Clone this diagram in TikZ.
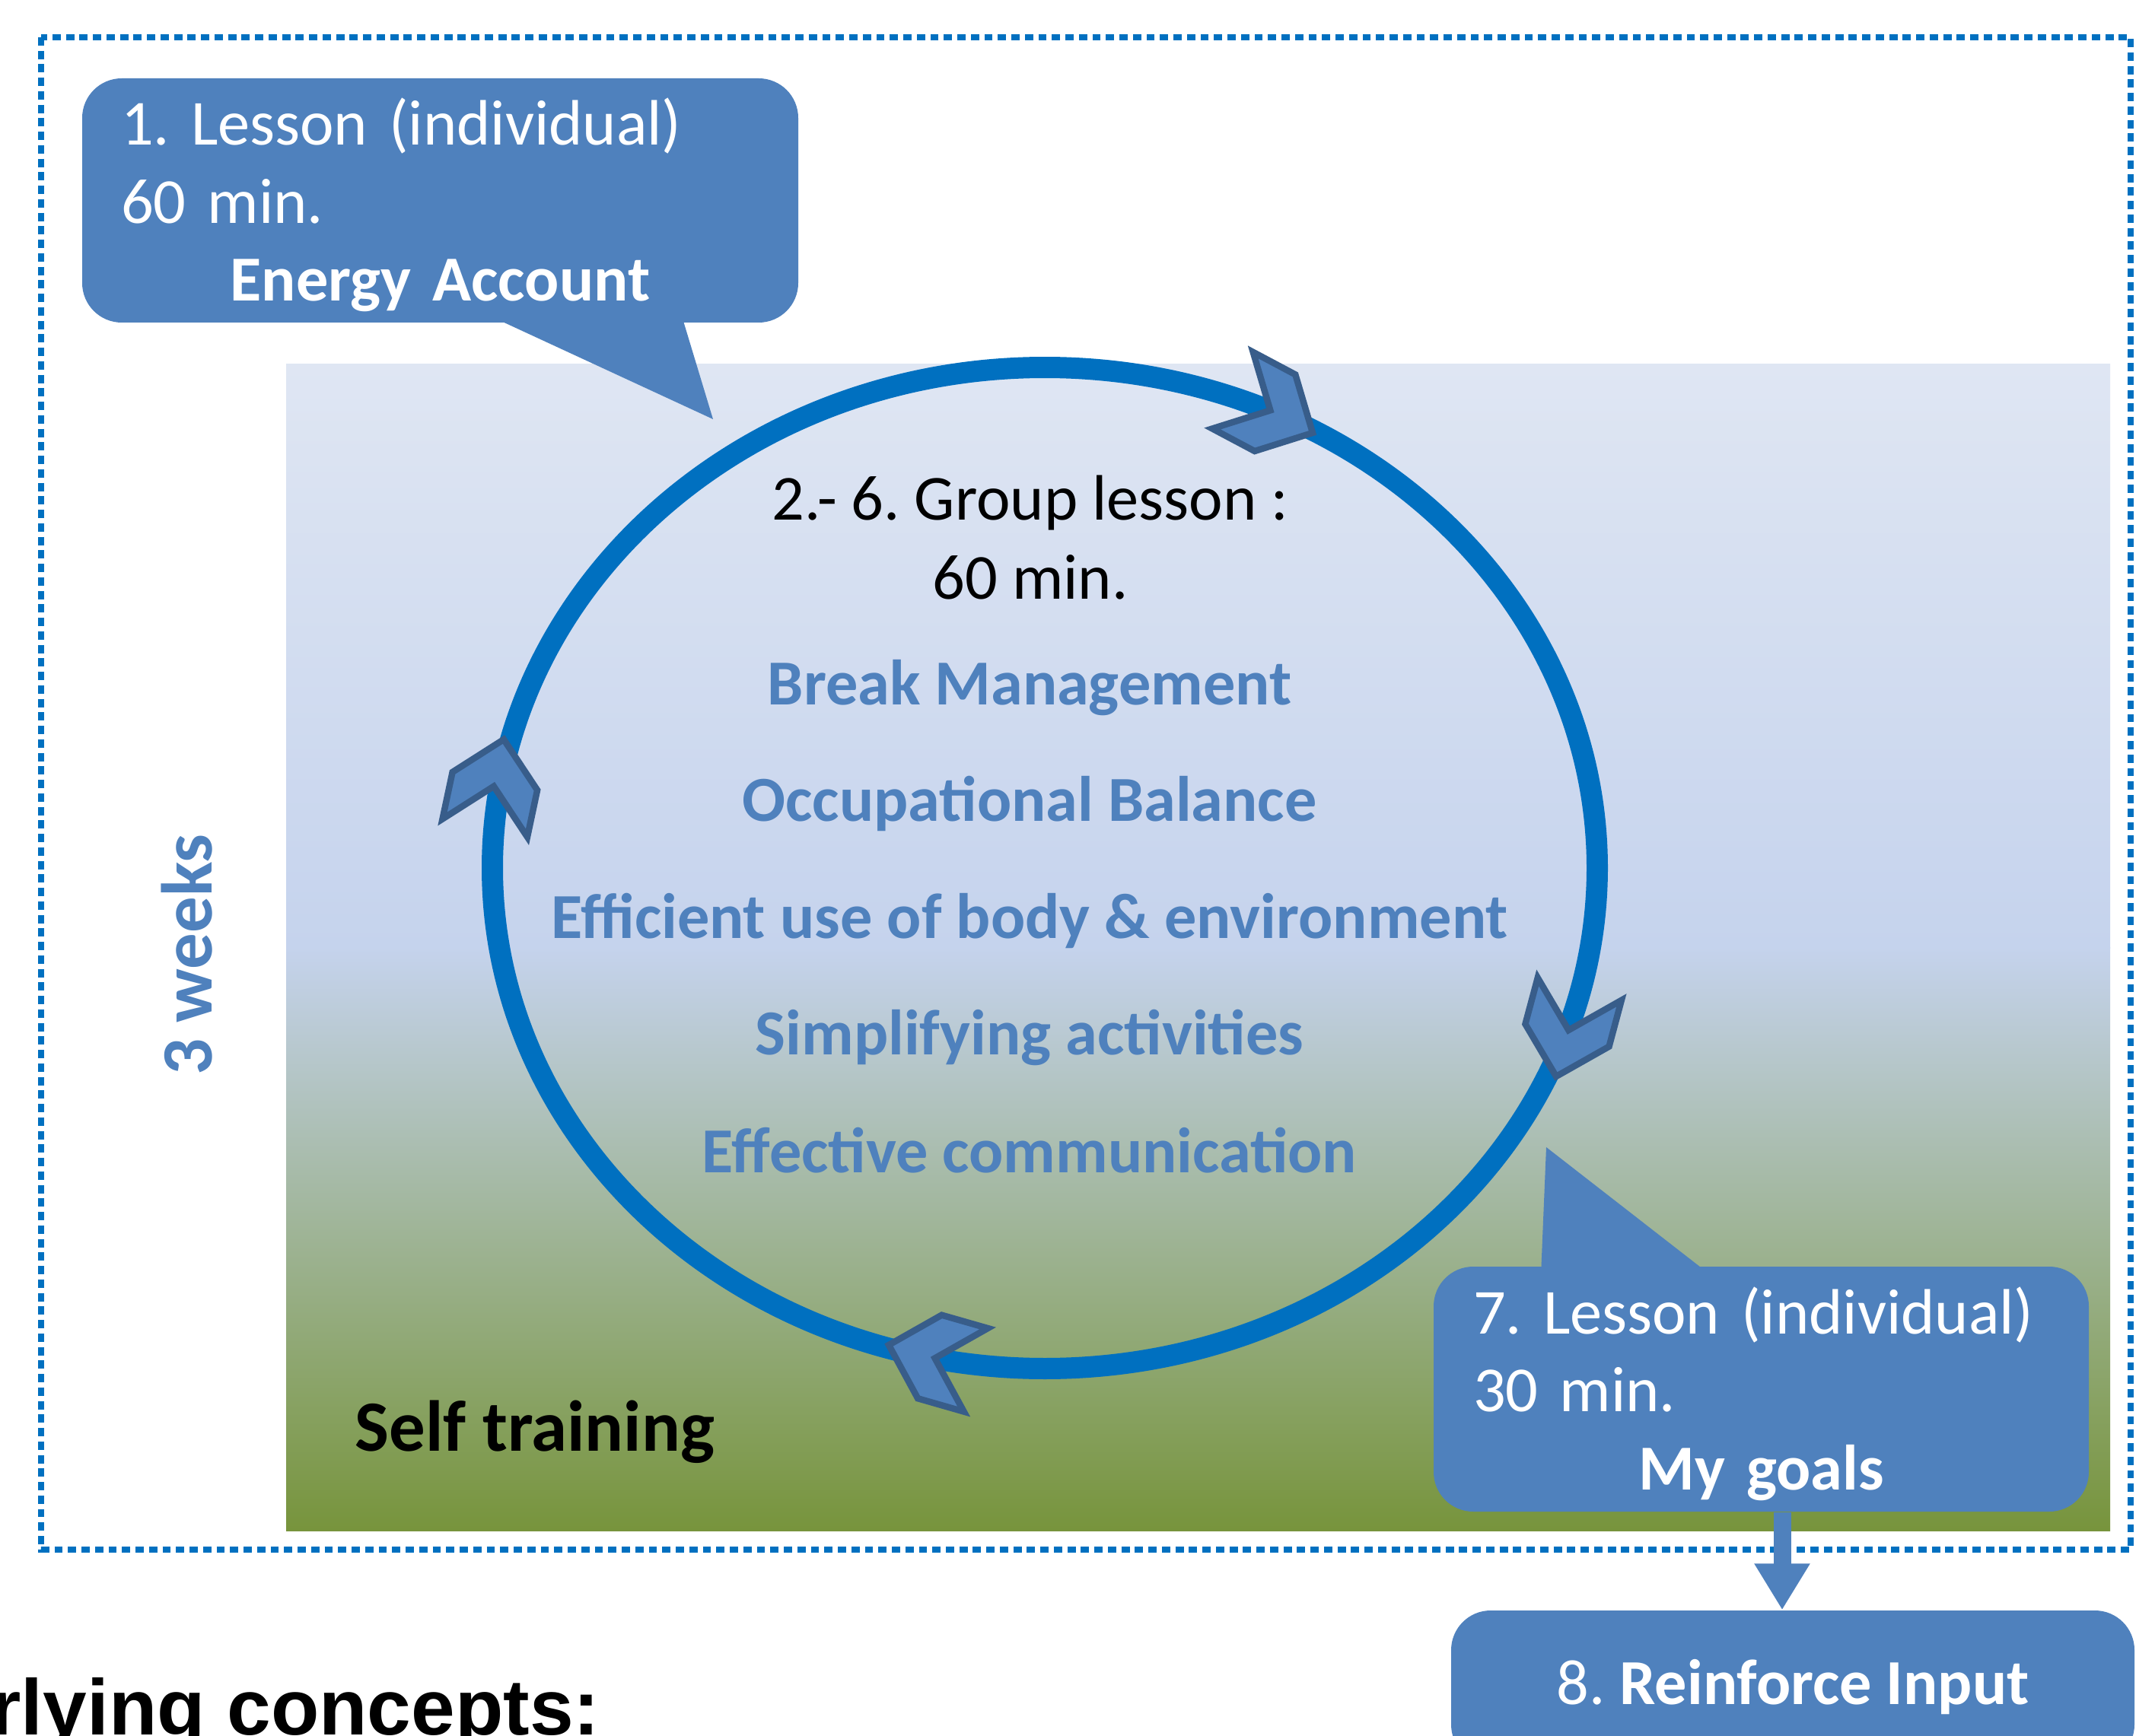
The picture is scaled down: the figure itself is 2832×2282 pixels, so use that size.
\documentclass[tikz,border=0pt]{standalone}
\usepackage{fontspec}
\setmainfont{Carlito}
\newfontfamily\arialfont{Liberation Sans}
\usetikzlibrary{arrows.meta,calc}
\frenchspacing

\definecolor{frameblue}{RGB}{0,112,192}
\definecolor{boxblue}{RGB}{79,129,189}
\definecolor{chevedge}{RGB}{56,93,138}
\definecolor{bgtop}{RGB}{223,230,243}
\definecolor{bgmid}{RGB}{197,211,237}
\definecolor{bggreen}{RGB}{119,148,60}

\tikzset{
  callout/.style={fill=boxblue, rounded corners=0.52cm, text=white, inner sep=0pt,
    font=\fontsize{24}{29.2}\selectfont, align=left},
  topic/.style={text=boxblue, anchor=base, inner sep=0pt,
    font=\fontsize{24}{29.2}\selectfont\bfseries},
  plain/.style={anchor=base, inner sep=0pt, font=\fontsize{24}{29.2}\selectfont},
  chev/.pic={\filldraw[fill=boxblue, draw=chevedge, line width=2.4pt]
    (0,0) -- (-56,57) -- (-119,57) -- (-63,0) -- (-119,-57) -- (-56,-57) -- cycle;}
}

\begin{document}
\begin{tikzpicture}[x=0.1mm, y=-0.1mm]

  \useasboundingbox (0,0) rectangle (2832,2282);
  \clip (0,0) rectangle (2832,2282);
  \fill[white] (0,0) rectangle (2832,2282);

  % Outer frame
  \draw[frameblue, line width=2.4pt, dash pattern=on 3.1pt off 1.95pt]
    (54,49) rectangle (2800,2037);

  % Background (blue to green)
  \shade[top color=bgtop, bottom color=bgmid] (376,479) rectangle (2773,1246);
  \shade[top color=bgmid, bottom color=bggreen] (376,1245) rectangle (2773,2012);

  % Cycle
  \draw[frameblue, line width=0.28cm] (1373,1141) ellipse [x radius=7.26cm, y radius=6.58cm];
  \pic[rotate=-28] at (1725,569) {chev};
  \pic[rotate=-105] at (2045,1415) {chev};
  \pic[rotate=164] at (1168,1768) {chev};
  \pic[rotate=78] at (662,972) {chev};

  % Group lessons
  \node[plain] (group) at (1354,684) {2.- 6. Group lesson :};
  \node[plain] (groupmin) at (1354,787) {60 min.};
  \node[topic] (breaks) at (1353,926) {Break Management};
  \node[topic] (balance) at (1353,1079) {Occupational Balance};
  \node[topic] (body) at (1353,1233) {Efficient use of body \& environment};
  \node[topic] (simplify) at (1353,1386) {Simplifying activities};
  \node[topic] (communic) at (1353,1541) {Effective communication};

  \node[anchor=base west, inner sep=0pt, font=\fontsize{27}{32}\selectfont\bfseries]
    (selftrain) at (466,1907) {Self training};
  \node[rotate=90, inner sep=0pt, text=boxblue, font=\fontsize{27}{32}\selectfont\bfseries]
    (weeks) at (246,1255) {3 weeks};

  % First lesson
  \node[callout, minimum width=9.41cm, minimum height=3.21cm, text width=8.39cm]
    (lesson1) at (578.5,263.5)
    {\rule{0pt}{21pt}1. Lesson (individual)\\60 min.\\\makebox[\linewidth]{\bfseries Energy Account}};
  \coordinate (tip1) at (937,551);
  \fill[boxblue] ($(lesson1.south west)+(546,-5)$) -- (tip1)
    -- ($(lesson1.south west)+(790,-5)$) -- cycle;

  % Last lesson
  \node[callout, minimum width=8.61cm, minimum height=3.22cm, text width=7.57cm]
    (lesson7) at (2314.5,1826)
    {\rule{0pt}{21pt}7. Lesson (individual)\\30 min.\\\makebox[\linewidth]{\bfseries My goals}};
  \coordinate (tip7) at (2032,1508);
  \fill[boxblue] ($(lesson7.north west)+(142,5)$) -- (tip7)
    -- ($(lesson7.north west)+(356,5)$) -- cycle;

  % Follow-up
  \node[callout, minimum width=8.98cm, minimum height=2.02cm, align=center]
    (reinforce) at (2356,2218) {8. \textbf{Reinforce Input}};
  \coordinate (arrowx) at (2342,0);
  \draw[boxblue, line width=0.23cm, -{Triangle[width=0.69cm, length=0.61cm]}]
    (lesson7.south -| arrowx) -- (reinforce.north -| arrowx);

  \node[anchor=base east, inner sep=0pt, font=\fontsize{29.5}{35}\arialfont\bfseries]
    (concepts) at (789,2280) {rlying concepts:};

\end{tikzpicture}
\end{document}
